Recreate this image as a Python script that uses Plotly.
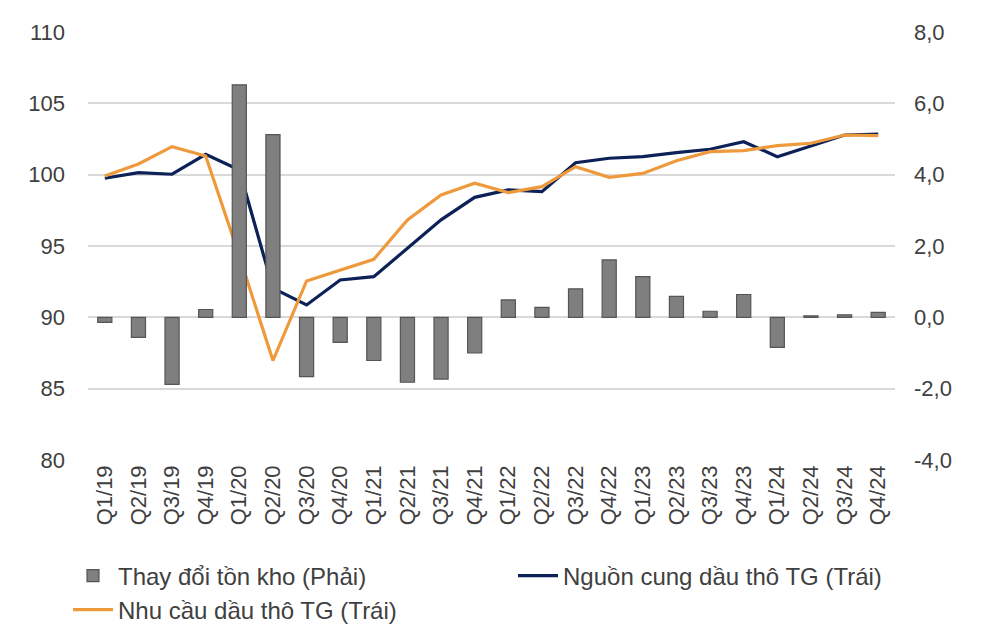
import plotly.graph_objects as go

quarters = ["Q1/19","Q2/19","Q3/19","Q4/19","Q1/20","Q2/20","Q3/20","Q4/20",
            "Q1/21","Q2/21","Q3/21","Q4/21","Q1/22","Q2/22","Q3/22","Q4/22",
            "Q1/23","Q2/23","Q3/23","Q4/23","Q1/24","Q2/24","Q3/24","Q4/24"]

inventory_change = [-0.14,-0.56,-1.88,0.22,6.52,5.12,-1.66,-0.70,
                    -1.21,-1.82,-1.73,-1.00,0.49,0.28,0.80,1.61,
                    1.14,0.59,0.17,0.64,-0.84,0.04,0.07,0.14]

supply = [99.75,100.14,100.03,101.43,100.33,92.04,90.87,92.62,
          92.85,94.84,96.83,98.41,98.93,98.81,100.84,101.15,
          101.26,101.54,101.78,102.31,101.26,102.01,102.78,102.85]

demand = [99.91,100.75,101.96,101.31,94.3,86.97,92.55,93.32,
          94.07,96.83,98.58,99.40,98.74,99.16,100.56,99.81,
          100.09,100.98,101.61,101.68,102.03,102.20,102.78,102.73]

left_ticks = [80,85,90,95,100,105,110]
right_ticks = [-4,-2,0,2,4,6,8]
right_labels = ["-4,0","-2,0","0,0","2,0","4,0","6,0","8,0"]

font_family = "Liberation Sans, Arial, sans-serif"
W, H = 982, 638
OFF = 8  # page body offset

fig = go.Figure()
fig.add_trace(go.Bar(
    x=quarters, y=inventory_change, name="Thay đổi tồn kho (Phải)",
    yaxis="y2", legend="legend",
    marker=dict(color="#7f7f7f", line=dict(color="#555555", width=1.2)),
    width=0.42))
fig.add_trace(go.Scatter(
    x=quarters, y=supply, name="Nguồn cung dầu thô TG (Trái)", mode="lines",
    legend="legend2", line=dict(color="#0c2157", width=3.2)))
fig.add_trace(go.Scatter(
    x=quarters, y=demand, name="Nhu cầu dầu thô TG (Trái)", mode="lines",
    legend="legend3", line=dict(color="#ee9a3c", width=3.2)))

def leg(xpx, ypx):
    return dict(xref="container", yref="container",
                x=xpx / W, y=1 - (ypx - OFF) / H, xanchor="left", yanchor="middle",
                itemwidth=40, font=dict(size=24, color="#404040"),
                bgcolor="rgba(0,0,0,0)")

fig.update_layout(
    width=W, height=H,
    margin=dict(l=88 - OFF, r=W + OFF - 895, t=32 - OFF, b=H + OFF - 460, autoexpand=False),
    paper_bgcolor="white", plot_bgcolor="white",
    font=dict(family=font_family, color="#404040", size=22),
    showlegend=True,
    xaxis=dict(type="category", tickangle=-90, tickfont=dict(size=22, color="#404040"),
               showgrid=False, showline=False, zeroline=False, ticks="",
               range=[-0.5, 23.5]),
    yaxis=dict(range=[80,110], tickvals=left_ticks, ticktext=[str(v) for v in left_ticks],
               showgrid=True, gridcolor="#d9d9d9", gridwidth=1.5, zeroline=False,
               showline=False, ticks="", ticklabelstandoff=22,
               tickfont=dict(size=22, color="#404040")),
    yaxis2=dict(range=[-4,8], tickvals=right_ticks, ticktext=right_labels,
                overlaying="y", side="right", showgrid=False, zeroline=False,
                showline=False, ticks="", ticklabelstandoff=18,
                tickfont=dict(size=22, color="#404040")),
    legend=leg(60, 576),
    legend2=leg(505, 576),
    legend3=leg(60, 610),
)
fig.write_html("out.html")
